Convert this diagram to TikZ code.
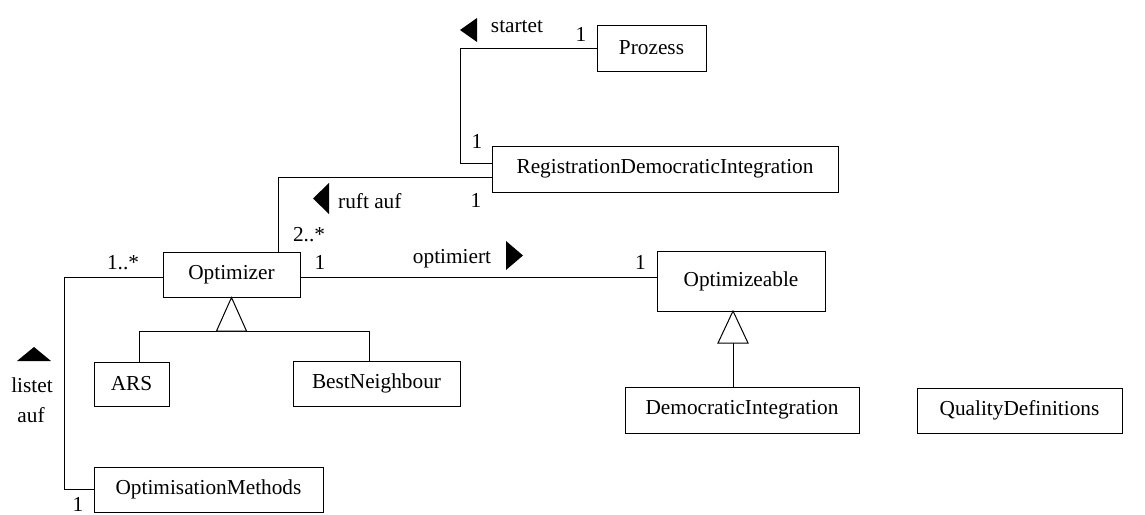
\documentclass[tikz,border=0pt]{standalone}
\usepackage{fontspec}
\setmainfont{Liberation Serif}
\begin{document}
\begin{tikzpicture}[x=1pt,y=-1pt,
  every node/.style={font=\fontsize{21.3}{26}\selectfont},
  cls/.style={draw,line width=1pt,inner sep=0pt,rectangle},
  lbl/.style={anchor=base,inner sep=0pt},
  link/.style={line width=1pt},
  gen/.style={line width=1pt,fill=white,line join=miter},
  dirmark/.style={fill=black,draw=none}]
\useasboundingbox (0,0) rectangle (1145,514);

% classes
\node[cls,minimum width=109pt,minimum height=46pt] (proz) at (651.5,48) {Prozess};
\node[cls,minimum width=346pt,minimum height=46pt] (rdi) at (665,169) {RegistrationDemocraticIntegration};
\node[cls,minimum width=137pt,minimum height=45pt] (opt) at (231.5,274.5) {Optimizer};
\node[cls,minimum width=168pt,minimum height=60pt] (optz) at (741,281) {Optimizeable};
\node[cls,minimum width=75pt,minimum height=44pt] (ars) at (131.5,384) {ARS};
\node[cls,minimum width=167pt,minimum height=45pt] (bn) at (376.5,383.5) {BestNeighbour};
\node[cls,minimum width=234pt,minimum height=46pt] (di) at (742,410) {DemocraticIntegration};
\node[cls,minimum width=205pt,minimum height=45pt] (qd) at (1019.5,410.5) {QualityDefinitions};
\node[cls,minimum width=229pt,minimum height=45pt] (om) at (208.5,489.5) {OptimisationMethods};

% routing points
\coordinate (kp) at (460,48);
\coordinate (kr) at (460,163);
\coordinate (ko) at (278,177);
\coordinate (ky) at (0,277);
\coordinate (kl) at (64,277);
\coordinate (km) at (64,489.5);
\coordinate (ka) at (139,331);
\coordinate (kb) at (369,331);

% Prozess -- RegistrationDemocraticIntegration
\draw[link] (proz.west) -- (kp) -- (kr) -- (rdi.west |- kr);
\node[lbl] (m1) at (581,41) {1};
\node[lbl] (m2) at (477,148) {1};
\node[lbl] (startet) at (517,32) {startet};
\fill[dirmark] (460,30) -- (477,18) -- (477,42) -- cycle;

% RegistrationDemocraticIntegration -- Optimizer
\draw[link] (rdi.west |- ko) -- (ko) -- (ko |- opt.north);
\node[lbl] (m3) at (476,207) {1};
\node[lbl] (m4) at (309,241) {2..*};
\node[lbl,anchor=base west] (ruft) at (338,208) {ruft auf};
\fill[dirmark] (313,198.5) -- (329,183) -- (329,214) -- cycle;

% Optimizer -- Optimizeable
\draw[link] (opt.east |- ky) -- (optz.west |- ky);
\node[lbl] (m5) at (320,269) {1};
\node[lbl] (m6) at (640.5,269) {1};
\node[lbl] (optimiert) at (452,263) {optimiert};
\fill[dirmark] (523,255.5) -- (506,241) -- (506,270) -- cycle;

% Optimizer -- OptimisationMethods
\draw[link] (opt.west |- ky) -- (kl) -- (km) -- (om.west);
\node[lbl] (m7) at (123,269) {1..*};
\node[lbl] (m8) at (78,511) {1};
\node[lbl] (listet) at (32,392) {listet};
\node[lbl] (auf) at (31,422) {auf};
\fill[dirmark] (34,347) -- (51,361) -- (17,361) -- cycle;

% generalisation: Optimizer
\coordinate (g1) at (231.5,331);
\draw[link] (ka) -- (kb);
\draw[link] (ka) -- (ka |- ars.north);
\draw[link] (kb) -- (kb |- bn.north);
\draw[gen] (opt.south) -- ([xshift=-15pt]g1) -- ([xshift=15pt]g1) -- cycle;

% generalisation: Optimizeable
\coordinate (g2) at (733,343);
\coordinate (g2t) at (733,311);
\draw[link] (g2) -- (g2 |- di.north);
\draw[gen] (g2t) -- ([xshift=-15pt]g2) -- ([xshift=15pt]g2) -- cycle;
\end{tikzpicture}
\end{document}
